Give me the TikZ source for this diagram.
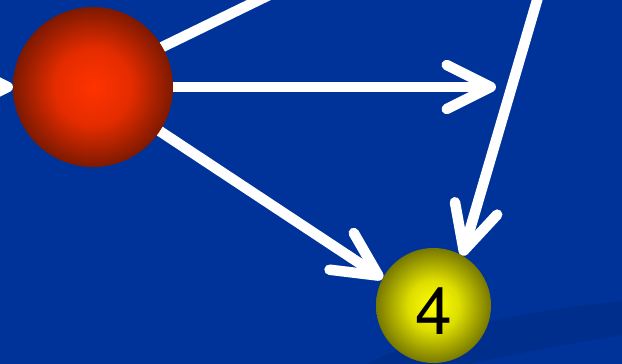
\documentclass[tikz,border=0pt]{standalone}
\usepackage{fontspec}
\setsansfont{TeX Gyre Heros}
\usetikzlibrary{arrows.meta}
\definecolor{bgblue}{RGB}{0,51,153}
\definecolor{bandblue}{RGB}{0,46,140}
\definecolor{redin}{RGB}{255,51,0}
\definecolor{redmid}{RGB}{228,44,0}
\definecolor{redout}{RGB}{125,25,0}
\definecolor{yelin}{RGB}{255,255,0}
\definecolor{yelmid}{RGB}{222,222,0}
\definecolor{yelout}{RGB}{120,120,0}
% the node's bounding box covers the central 50bp square, so the rim sits at 25bp
\pgfdeclareradialshading{redball}{\pgfpoint{0bp}{0bp}}{color(0bp)=(redin); color(12bp)=(redmid); color(25bp)=(redout); color(50bp)=(redout)}
\pgfdeclareradialshading{yellowball}{\pgfpoint{0bp}{0bp}}{color(0bp)=(yelin); color(11bp)=(yelmid); color(25bp)=(yelout); color(50bp)=(yelout)}
\pgfdeclarelayer{backdrop}
\pgfdeclarelayer{links}
\pgfsetlayers{backdrop,links,main}
\begin{document}
\begin{tikzpicture}[x=1pt,y=-1pt,
  flow/.style={draw=white, line width=10.5pt, line cap=round},
  arrowed/.style={flow, -{Straight Barb[length=44pt,width=44pt,round]}},
  ball/.style={circle, inner sep=0pt, outer sep=0pt}]
\useasboundingbox (0,0) rectangle (622,364);
\clip (0,0) rectangle (622,364);
\begin{pgfonlayer}{backdrop}
  \fill[bgblue] (0,0) rectangle (622,364);
  \fill[bandblue] (367,364) .. controls (420,335) and (520,310) .. (622,301)
    -- (622,335) .. controls (560,345) and (505,356) .. (470,364) -- cycle;
\end{pgfonlayer}
% balls
\node[ball, minimum size=160pt, shading=redball] (red) at (93,87) {};
\node[ball, minimum size=115pt, shading=yellowball] (yel) at (433.5,305.5) {};
\node[font=\sffamily\fontsize{66}{66}\selectfont, inner sep=0pt] (four) at ([yshift=-5.5pt]yel.center) {4};
% free ends of the links
\coordinate (lin) at (-40,87);
\coordinate (hend) at (496,87);
\coordinate (tl) at (300,-20);
\coordinate (tr) at (543,-20);
\begin{pgfonlayer}{links}
  \draw[arrowed] (lin) -- (red);
  \draw[flow] (red.30) -- (tl);
  \draw[arrowed] (red) -- (hend);
  \draw[arrowed] (red) -- (yel.152);
  \draw[arrowed] (tr) -- (yel.60);
\end{pgfonlayer}
\end{tikzpicture}
\end{document}
